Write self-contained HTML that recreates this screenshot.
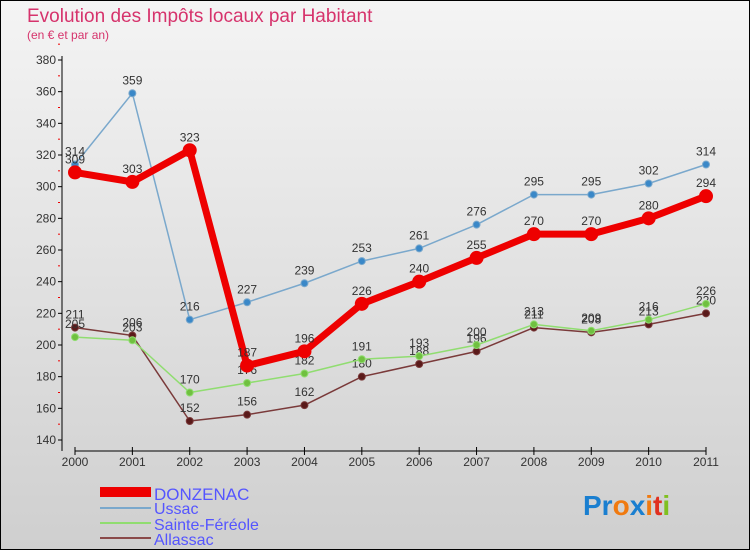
<!DOCTYPE html>
<html><head><meta charset="utf-8"><style>
body{margin:0;width:750px;height:550px;overflow:hidden}
svg{display:block;font-family:"Liberation Sans",sans-serif}
</style></head><body>
<svg id="c" width="750" height="550" xmlns="http://www.w3.org/2000/svg">
<defs><linearGradient id="bg" x1="0" y1="0" x2="0" y2="1"><stop offset="0" stop-color="#f4f4f4"/><stop offset="1" stop-color="#cfcfcf"/></linearGradient></defs>
<rect x="0.5" y="0.5" width="749" height="549" fill="url(#bg)" stroke="#000"/>
<text x="27" y="22" font-size="19" fill="#d6336c">Evolution des Impôts locaux par Habitant</text>
<text x="27" y="39" font-size="12" fill="#d6336c">(en € et par an)</text>
<g id="axes"></g><g id="series"></g>
<g>
<rect x="100" y="487" width="51" height="10" fill="#e00"/>
<text x="154" y="500" font-size="17" fill="#5555ff">DONZENAC</text>
<line x1="100" y1="508" x2="151" y2="508" stroke="#7aa8cc" stroke-width="2"/>
<text x="154" y="514" font-size="16" fill="#5555ff">Ussac</text>
<line x1="100" y1="523" x2="151" y2="523" stroke="#90dd70" stroke-width="2"/>
<text x="154" y="530" font-size="16" fill="#5555ff">Sainte-Féréole</text>
<line x1="100" y1="538" x2="151" y2="538" stroke="#8a4a4a" stroke-width="2"/>
<text x="154" y="545" font-size="16" fill="#5555ff">Allassac</text>
</g>
<g font-size="28" font-weight="bold">
<text x="583" y="515"><tspan fill="#1a7fd0">Pr</tspan><tspan fill="#f07a10">o</tspan><tspan fill="#1a7fd0">x</tspan><tspan fill="#f07a10">i</tspan><tspan fill="#e03020">t</tspan><tspan fill="#80c020">i</tspan></text>
</g>
</svg>
<script>
const years=[2000,2001,2002,2003,2004,2005,2006,2007,2008,2009,2010,2011];
const yTicks=[140,160,180,200,220,240,260,280,300,320,340,360,380];
const donzenac=[309,303,323,187,196,226,240,255,270,270,280,294];
const ussac=[314,359,216,227,239,253,261,276,295,295,302,314];
const sainteFereole=[205,203,170,176,182,191,193,200,213,209,216,226];
const allassac=[211,206,152,156,162,180,188,196,211,208,213,220];
const NS="http://www.w3.org/2000/svg";
const X0=75,X1=706,Y0=440,Y1=60,VMIN=140,VMAX=380;
const x=i=>X0+(X1-X0)*i/(years.length-1);
const y=v=>Y0-(v-VMIN)/(VMAX-VMIN)*(Y0-Y1);
function mk(tag,attrs,parent,text){const e=document.createElementNS(NS,tag);for(const k in attrs)e.setAttribute(k,attrs[k]);if(text!==undefined)e.textContent=text;parent.appendChild(e);return e;}
const ax=document.getElementById('axes');
let e=mk('line',{x1:62,y1:56,x2:62,y2:451,stroke:'#000'},ax);


e=mk('line',{x1:75,y1:451,x2:706,y2:451,stroke:'#000'},ax);


yTicks.forEach(t=>{
  mk('line',{x1:58,y1:y(t),x2:62,y2:y(t),stroke:'#000'},ax);
  mk('line',{x1:58,y1:y(t+10),x2:60,y2:y(t+10),stroke:'#e00'},ax);
  const l=mk('text',{x:56,y:y(t)+4,'font-size':12,'text-anchor':'end',fill:'#333'},ax,t);
  
  
});
years.forEach((yr,i)=>{
  mk('line',{x1:x(i),y1:447,x2:x(i),y2:455,stroke:'#000'},ax);
  const l=mk('text',{x:x(i),y:466,'font-size':12,'text-anchor':'middle',fill:'#333'},ax,yr);
  
  
});
const sg=document.getElementById('series');
function draw(name,data,color,dot,w,r){
  const g=mk('g',{},sg);
  
  
  const p=mk('polyline',{points:data.map((v,i)=>x(i)+','+y(v)).join(' '),fill:'none',stroke:color,'stroke-width':w,'stroke-linejoin':'round'},g);
  
  
  data.forEach((v,i)=>{
    const c=mk('circle',{cx:x(i),cy:y(v),r:r,fill:dot,stroke:color,'stroke-width':1},g);
    
    
    const t=mk('text',{x:x(i),y:y(v)-9,'font-size':12,'text-anchor':'middle',fill:'#333'},g,v);
    
    
  });
}
draw('allassac',allassac,'#7a3a3a','#5a1a1a',1.5,3.5);
draw('sainte-fereole',sainteFereole,'#90dd70','#70c040',1.5,3.5);
draw('ussac',ussac,'#7aa8cc','#3a88c8',1.5,3.5);
draw('donzenac',donzenac,'#ee0000','#ee0000',7,6.5);
</script>
</body></html>
